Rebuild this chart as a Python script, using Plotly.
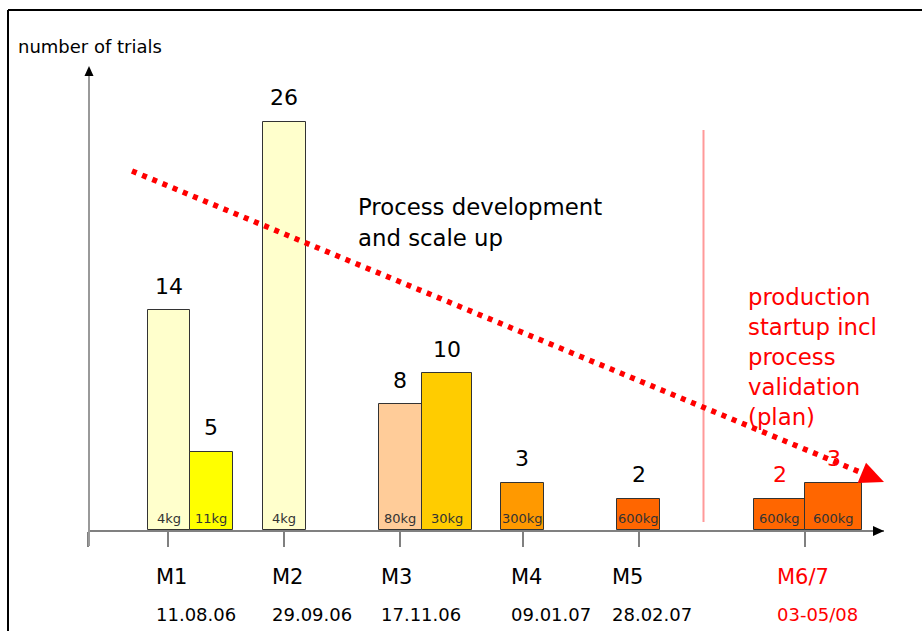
import plotly.graph_objects as go

# ---- data -------------------------------------------------------------
milestones = ["M1", "M2", "M3", "M4", "M5", "M6/7"]
milestone_dates = ["11.08.06", "29.09.06", "17.11.06", "09.01.07", "28.02.07", "03-05/08"]

trials = [14, 5, 26, 8, 10, 3, 2, 2, 3]
batch_sizes = ["4kg", "11kg", "4kg", "80kg", "30kg", "300kg", "600kg", "600kg", "600kg"]
planned = [False, False, False, False, False, False, False, True, True]

# ---- layout helpers (horizontal axis is in pixel-like units) ------------
bar_left = [59.5, 102.0, 174.7, 290.5, 334.0, 413.0, 529.3, 666.3, 717.0]
bar_right = [102.0, 144.5, 217.7, 334.0, 383.7, 455.7, 572.3, 717.0, 774.3]
bar_colors = ["#FFFFCC", "#FFFF00", "#FFFFCC", "#FFCC99", "#FFCC00",
              "#FF9900", "#FF6600", "#FF6600", "#FF6600"]
tick_pos = [0, 80.3, 196.3, 312.0, 435.3, 550.7, 717.0]
label_left = [66, 182, 291, 421, 522, 687]

FONT = "DejaVu Sans"
RED = "#FF0000"
ML, MR, MT, MB = 88, 38, 67, 101
W, H = 922 - ML - MR, 631 - MT - MB
PX_PER_TRIAL = 15.7


def px_x(px):
    return (px - ML) / W


def px_y(py):
    return (631 - MB - py) / H


centers = [(a + b) / 2 for a, b in zip(bar_left, bar_right)]
widths = [b - a for a, b in zip(bar_left, bar_right)]

fig = go.Figure()
fig.add_trace(go.Bar(
    x=centers, y=trials, width=widths,
    marker=dict(color=bar_colors, line=dict(color="#333333", width=1)),
    hoverinfo="skip", showlegend=False,
))

annotations = []
shapes = []

# value labels above the bars, batch size labels inside at the bottom
for cx, v, kg, plan in zip(centers, trials, batch_sizes, planned):
    annotations.append(dict(
        x=cx, y=v, xref="x", yref="y", text=str(v), showarrow=False,
        yanchor="middle", yshift=24,
        font=dict(family=FONT, size=22, color=RED if plan else "black"),
    ))
    annotations.append(dict(
        x=cx, y=0, xref="x", yref="y", text=kg, showarrow=False,
        yanchor="middle", yshift=12,
        font=dict(family=FONT, size=13, color="#333333"),
    ))

# milestone names and dates under the axis
for i, (m, d) in enumerate(zip(milestones, milestone_dates)):
    col = RED if m == "M6/7" else "black"
    annotations.append(dict(
        x=label_left[i], y=px_y(577), xref="x", yref="paper", text=m,
        showarrow=False, xanchor="left", yanchor="middle",
        font=dict(family=FONT, size=21, color=col),
    ))
    annotations.append(dict(
        x=label_left[i], y=px_y(614), xref="x", yref="paper", text=d,
        showarrow=False, xanchor="left", yanchor="middle",
        font=dict(family=FONT, size=18, color=col),
    ))

annotations.append(dict(
    x=px_x(16), y=px_y(47), xref="paper", yref="paper", text="number of trials",
    showarrow=False, xanchor="left", yanchor="middle",
    font=dict(family=FONT, size=18, color="black"),
))

for k, line in enumerate(["Process development", "and scale up"]):
    annotations.append(dict(
        x=px_x(356), y=px_y(207 + 31 * k), xref="paper", yref="paper", text=line,
        showarrow=False, xanchor="left", yanchor="middle",
        font=dict(family=FONT, size=22.8, color="black"),
    ))

for k, line in enumerate(["production", "startup incl", "process", "validation", "(plan)"]):
    annotations.append(dict(
        x=px_x(746), y=px_y(297 + 30 * k), xref="paper", yref="paper", text=line,
        showarrow=False, xanchor="left", yanchor="middle",
        font=dict(family=FONT, size=22.8, color=RED),
    ))

# frame (left and top edges)
shapes.append(dict(type="line", xref="paper", yref="paper",
                   x0=px_x(8), x1=px_x(930), y0=px_y(10), y1=px_y(10),
                   line=dict(color="black", width=2)))
shapes.append(dict(type="line", xref="paper", yref="paper",
                   x0=px_x(8), x1=px_x(8), y0=px_y(10), y1=px_y(640),
                   line=dict(color="black", width=2)))

# vertical axis with arrow head
shapes.append(dict(type="line", xref="paper", yref="paper",
                   x0=px_x(89), x1=px_x(89), y0=px_y(546), y1=px_y(74),
                   line=dict(color="#999999", width=2)))
shapes.append(dict(type="path", xref="paper", yref="paper",
                   path=f"M {px_x(89)},{px_y(66)} L {px_x(84.5)},{px_y(76)} L {px_x(93.5)},{px_y(76)} Z",
                   fillcolor="black", line=dict(width=0)))
# horizontal axis arrow head
shapes.append(dict(type="path", xref="paper", yref="paper",
                   path=f"M {px_x(884)},{px_y(531)} L {px_x(873)},{px_y(526)} L {px_x(873)},{px_y(536)} Z",
                   fillcolor="black", line=dict(width=0)))

# separator between development and production phase
shapes.append(dict(type="line", xref="paper", yref="paper",
                   x0=px_x(703.5), x1=px_x(703.5), y0=px_y(522), y1=px_y(130),
                   line=dict(color="#FF9999", width=2)))

# dotted trend arrow
sx, sy = 132, 171
tx, ty = 884, 482
dx, dy = tx - sx, ty - sy
ln = (dx * dx + dy * dy) ** 0.5
ux, uy = dx / ln, dy / ln
head_len, head_half = 24, 11
bx, by = tx - ux * head_len, ty - uy * head_len
shapes.append(dict(type="line", xref="paper", yref="paper",
                   x0=px_x(sx), y0=px_y(sy), x1=px_x(bx + ux * 2), y1=px_y(by + uy * 2),
                   line=dict(color=RED, width=5.5, dash="5px,6px")))
p1 = (bx - uy * head_half, by + ux * head_half)
p2 = (bx + uy * head_half, by - ux * head_half)
shapes.append(dict(type="path", xref="paper", yref="paper",
                   path=(f"M {px_x(tx)},{px_y(ty)} L {px_x(p1[0])},{px_y(p1[1])} "
                         f"L {px_x(p2[0])},{px_y(p2[1])} Z"),
                   fillcolor=RED, line=dict(width=0)))

fig.update_layout(
    width=922, height=631,
    margin=dict(l=ML, r=MR, t=MT, b=MB),
    paper_bgcolor="white", plot_bgcolor="white",
    showlegend=False,
    xaxis=dict(range=[0, W], showgrid=False, zeroline=False,
               showline=True, linecolor="#808080", linewidth=2,
               ticks="outside", tickvals=tick_pos, ticklen=15, tickwidth=2,
               tickcolor="#808080", showticklabels=False, fixedrange=True),
    yaxis=dict(range=[0, H / PX_PER_TRIAL], visible=False, fixedrange=True),
    annotations=annotations,
    shapes=shapes,
    bargap=0,
)

fig.write_html("out.html", config={"displayModeBar": False})
